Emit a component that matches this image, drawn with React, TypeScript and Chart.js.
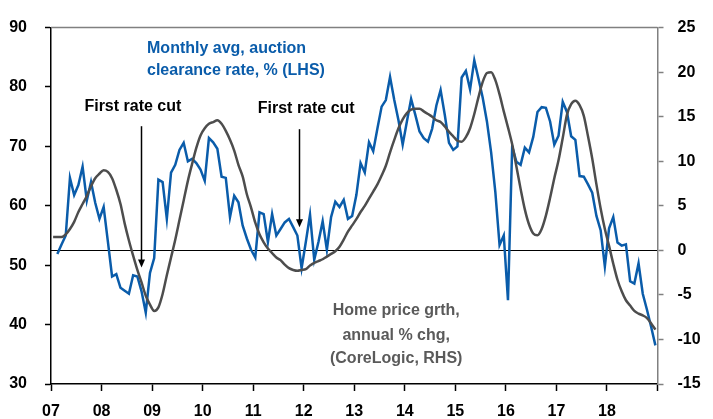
import React, { useEffect, useRef } from 'react';
import { Chart, registerables } from 'chart.js';

Chart.register(...registerables);

// ---- Data -------------------------------------------------------------
const START_YEAR = 2007;
const END_YEAR = 2019;
const yearTickLabels = ['07', '08', '09', '10', '11', '12', '13', '14', '15', '16', '17', '18', ''];
const leftAxisTicks = [30, 40, 50, 60, 70, 80, 90];
const rightAxisTicks = [-15, -10, -5, 0, 5, 10, 15, 20, 25];

// Monthly avg auction clearance rate, % (LHS) — first value is Feb 2007
const clearanceStartMonth = 1;
const clearanceRate = [
  51.9, 53.5, 55.0, 64.7, 61.8, 63.5, 66.6, 60.9, 64.0, 60.5, 57.8, // 2007
  59.8, 54.0, 48.1, 48.5, 46.2, 45.7, 45.2, 48.3, 48.1, 45.6, 42.0, 48.7, // 2008
  51.2, 64.4, 64.0, 57.8, 65.6, 66.9, 69.4, 70.6, 67.5, 67.9, 67.2, 66.1, // 2009
  64.2, 71.4, 70.7, 69.6, 64.9, 64.7, 58.1, 61.7, 60.6, 56.7, 54.5, 52.6, // 2010
  51.3, 58.9, 58.6, 53.9, 58.6, 55.0, 56.1, 57.2, 57.8, 56.4, 55.0, 49.5, // 2011
  53.9, 58.5, 50.9, 53.9, 57.4, 52.6, 58.1, 60.7, 59.8, 61.0, 57.8, 58.3, // 2012
  61.8, 67.2, 65.6, 70.7, 69.2, 73.0, 76.7, 77.8, 81.7, 77.8, 74.4, 70.3, // 2013
  74.2, 78.0, 75.3, 72.5, 71.4, 70.8, 73.0, 76.9, 79.5, 75.3, 70.6, 69.4, // 2014
  70.0, 81.6, 82.7, 79.6, 84.5, 81.4, 78.2, 74.2, 69.0, 62.3, 53.4, 55.0, // 2015
  44.1, 70.0, 67.4, 66.9, 69.8, 69.0, 71.6, 75.8, 76.6, 76.5, 74.2, 70.3, // 2016
  71.8, 77.5, 75.8, 71.7, 71.1, 65.0, 64.9, 63.6, 62.2, 58.3, 55.9, 49.8, // 2017
  56.2, 58.1, 53.8, 53.3, 53.5, 47.3, 46.9, 50.3, 45.2, 42.5, 39.6, 36.5, // 2018
];

// Home price growth, annual % chg (CoreLogic, RHS) — first value is Jan 2007
const priceStartMonth = 0;
const homePriceGrowth = [
  1.5, 1.5, 1.5, 1.8, 2.4, 3.2, 4.3, 5.2, 6.1, 7.2, 8.1, 8.6, // 2007
  9.0, 8.8, 8.1, 6.8, 5.2, 3.0, 1.1, -0.6, -2.2, -3.6, -5.1, -6.1, // 2008
  -6.8, -6.4, -4.9, -2.8, -0.8, 1.2, 3.4, 5.6, 7.8, 9.7, 11.5, 12.9, // 2009
  13.7, 14.2, 14.4, 14.6, 14.2, 13.4, 12.4, 11.2, 9.6, 8.3, 6.3, 4.8, // 2010
  3.1, 1.8, 0.9, 0.2, -0.3, -0.8, -1.1, -1.6, -2.0, -2.2, -2.3, -2.2, // 2011
  -2.1, -1.7, -1.4, -1.2, -1.0, -0.7, -0.4, -0.1, 0.4, 1.2, 2.1, 2.8, // 2012
  3.5, 4.3, 5.0, 5.8, 6.6, 7.4, 8.4, 9.5, 11.0, 12.4, 13.7, 14.7, // 2013
  15.4, 15.8, 15.9, 15.9, 15.6, 15.3, 15.0, 14.6, 14.4, 13.9, 13.3, 12.8, // 2014
  12.3, 12.2, 12.7, 13.7, 15.3, 17.2, 18.9, 19.9, 20.0, 19.1, 17.5, 15.6, // 2015
  13.8, 11.9, 9.4, 6.9, 4.6, 2.9, 1.9, 1.7, 2.4, 3.9, 5.9, 8.1, // 2016
  10.1, 12.6, 15.2, 16.4, 16.8, 16.3, 15.1, 12.8, 10.3, 7.4, 4.7, 2.4, // 2017
  0.5, -1.5, -3.3, -4.6, -5.6, -6.2, -6.8, -7.1, -7.3, -7.6, -8.2, -8.9, // 2018
];

// Annotations (date in years, value on the left axis unless noted)
const rateCutLabel = 'First rate cut';
const rateCutDates = [2008.78, 2011.9];
const rateCutLabelDates = [2008.62, 2012.05];
const rateCutLabelValues = [76.7, 76.4];
const rateCutArrowTop = [73.4, 72.9];
const rateCutArrowTip = [49.6, 56.4];

const blueLabelLines = ['Monthly avg, auction', 'clearance rate, % (LHS)'];
const blueLabelDate = 2008.9;
const blueLabelValues = [86.5, 82.8];

const greyLabelLines = ['Home price grth,', 'annual % chg,', '(CoreLogic, RHS)'];
const greyLabelDate = 2013.83;
const greyLabelValuesRHS = [-6.8, -9.55, -12.1];

// ---- Styling ----------------------------------------------------------
const BLUE = '#0a5caa';
const GREY_LINE = '#4d4d4d';
const GREY_TEXT = '#5a5a5a';
const FONT = "'Liberation Sans', Arial, sans-serif";

const toPoints = (values: number[], startMonth: number) =>
  values.map((v, i) => ({ x: START_YEAR + (startMonth + i + 0.5) / 12, y: v }));

const annotationPlugin = {
  id: 'annotations',
  afterDraw(chart: any) {
    const { ctx, chartArea, scales } = chart;
    const x = scales.x;
    const yL = scales.y;
    const yR = scales.y2;
    ctx.save();
    // top frame line
    ctx.strokeStyle = '#808080';
    ctx.lineWidth = 1.5;
    ctx.beginPath();
    ctx.moveTo(chartArea.left, chartArea.top);
    ctx.lineTo(chartArea.right, chartArea.top);
    ctx.stroke();

    // rate cut labels + arrows
    ctx.font = `bold 16px ${FONT}`;
    ctx.fillStyle = '#000';
    ctx.textAlign = 'center';
    ctx.textBaseline = 'middle';
    rateCutDates.forEach((d, i) => {
      ctx.fillText(rateCutLabel, x.getPixelForValue(rateCutLabelDates[i]), yL.getPixelForValue(rateCutLabelValues[i]));
      const px = Math.round(x.getPixelForValue(d)) + 0.5;
      const top = yL.getPixelForValue(rateCutArrowTop[i]);
      const tip = yL.getPixelForValue(rateCutArrowTip[i]);
      ctx.strokeStyle = '#000';
      ctx.lineWidth = 1.5;
      ctx.beginPath();
      ctx.moveTo(px, top);
      ctx.lineTo(px, tip - 6);
      ctx.stroke();
      ctx.beginPath();
      ctx.moveTo(px - 3.5, tip - 8);
      ctx.lineTo(px + 3.5, tip - 8);
      ctx.lineTo(px, tip);
      ctx.closePath();
      ctx.fill();
    });

    // blue label
    ctx.fillStyle = BLUE;
    ctx.textAlign = 'left';
    blueLabelLines.forEach((t, i) => {
      ctx.fillText(t, x.getPixelForValue(blueLabelDate), yL.getPixelForValue(blueLabelValues[i]));
    });

    // grey label
    ctx.fillStyle = GREY_TEXT;
    ctx.textAlign = 'center';
    greyLabelLines.forEach((t, i) => {
      ctx.fillText(t, x.getPixelForValue(greyLabelDate), yR.getPixelForValue(greyLabelValuesRHS[i]));
    });
    ctx.restore();
  },
};

export default function App() {
  const canvasRef = useRef<HTMLCanvasElement | null>(null);

  useEffect(() => {
    document.body.style.margin = '0';
    const canvas = canvasRef.current;
    if (!canvas) return;
    const tickFont = { family: FONT, size: 16, weight: 'bold' as const };
    const chart = new Chart(canvas, {
      type: 'line',
      data: {
        datasets: [
          {
            label: 'Home price growth (RHS)',
            data: toPoints(homePriceGrowth, priceStartMonth),
            yAxisID: 'y2',
            borderColor: GREY_LINE,
            borderWidth: 2.5,
            pointRadius: 0,
            cubicInterpolationMode: 'monotone',
            order: 0,
          },
          {
            label: 'Auction clearance rate (LHS)',
            data: toPoints(clearanceRate, clearanceStartMonth),
            yAxisID: 'y',
            borderColor: BLUE,
            borderWidth: 2.5,
            pointRadius: 0,
            tension: 0,
            order: 1,
          },
        ],
      },
      options: {
        responsive: false,
        animation: false,
        events: [],
        layout: { padding: { top: 23, left: 0, right: 0, bottom: 0 } },
        plugins: { legend: { display: false }, tooltip: { enabled: false } },
        scales: {
          x: {
            type: 'linear',
            min: START_YEAR,
            max: END_YEAR,
            afterBuildTicks: (scale: any) => {
              scale.ticks = yearTickLabels.map((_, i) => ({ value: START_YEAR + i }));
            },
            afterFit: (scale: any) => {
              scale.height = 35;
            },
            ticks: {
              autoSkip: false,
              maxRotation: 0,
              color: '#000',
              font: tickFont,
              padding: 11,
              callback: (v: any) => yearTickLabels[Math.round(Number(v) - START_YEAR)] ?? '',
            },
            grid: { drawOnChartArea: false, tickLength: 7, tickColor: '#000', tickWidth: 1.5 },
            border: { color: '#000', width: 1.5 },
          },
          y: {
            position: 'left',
            min: 30,
            max: 90,
            afterBuildTicks: (scale: any) => {
              scale.ticks = leftAxisTicks.map((v) => ({ value: v }));
            },
            afterFit: (scale: any) => {
              scale.width = 51;
            },
            ticks: { color: '#000', font: tickFont, padding: 18 },
            grid: { drawOnChartArea: false, tickLength: 6, tickColor: '#000', tickWidth: 1.5 },
            border: { color: '#000', width: 1.5 },
          },
          y2: {
            position: 'right',
            min: -15,
            max: 25,
            afterBuildTicks: (scale: any) => {
              scale.ticks = rightAxisTicks.map((v) => ({ value: v }));
            },
            afterFit: (scale: any) => {
              scale.width = 55.5;
            },
            ticks: { color: '#000', font: tickFont, padding: 14 },
            grid: {
              drawOnChartArea: true,
              color: (ctx: any) => (ctx.tick && ctx.tick.value === 0 ? '#000' : 'rgba(0,0,0,0)'),
              lineWidth: 1,
              tickLength: 6,
              tickColor: '#808080',
              tickWidth: 1.5,
            },
            border: { color: '#808080', width: 1.5 },
          },
        },
      },
      plugins: [annotationPlugin],
    });
    return () => chart.destroy();
  }, []);

  return (
    <div style={{ width: 713, height: 419, background: '#fff' }}>
      <canvas ref={canvasRef} width={713} height={419} style={{ display: 'block' }} />
    </div>
  );
}
